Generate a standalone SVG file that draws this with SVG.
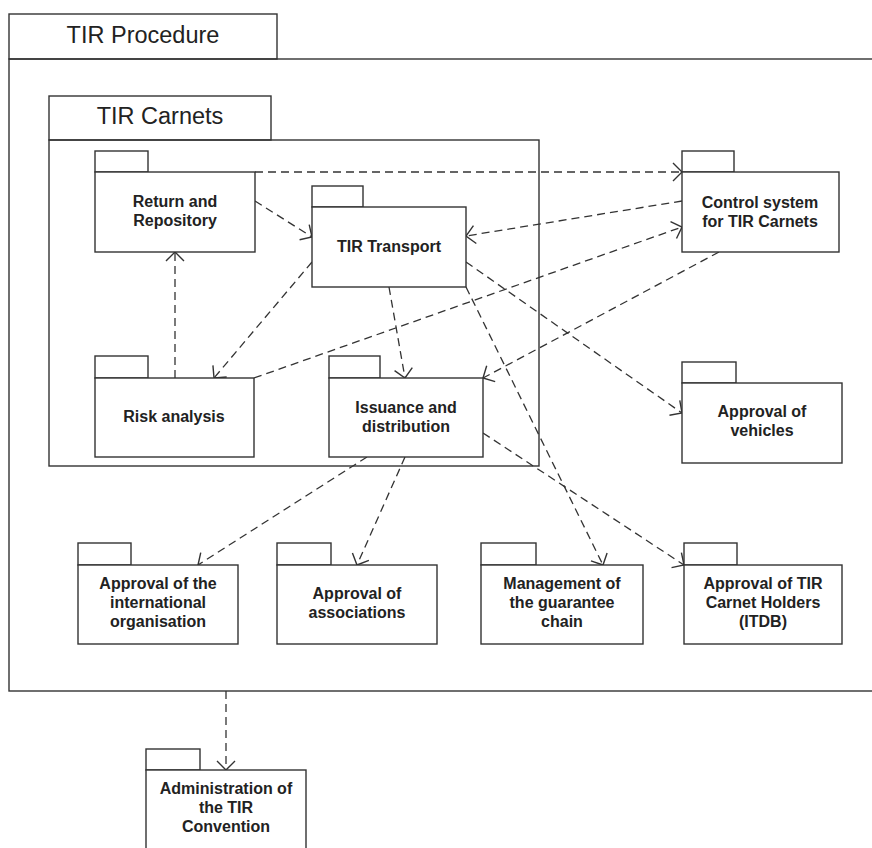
<svg xmlns="http://www.w3.org/2000/svg" width="872" height="848" viewBox="0 0 872 848">
<defs>
<style>
.box{fill:#fff;stroke:#333;stroke-width:1.4}
.cont{fill:none;stroke:#333;stroke-width:1.4}
.title{font-family:"Liberation Sans",Arial,sans-serif;font-size:23.5px;fill:#222;text-anchor:middle}
.lbl{font-family:"Liberation Sans",Arial,sans-serif;font-size:16px;font-weight:bold;fill:#222;text-anchor:middle}
.dep{fill:none;stroke:#333;stroke-width:1.3;stroke-dasharray:8 5;marker-end:url(#arr)}
</style>
<marker id="arr" markerUnits="userSpaceOnUse" markerWidth="24" markerHeight="24" refX="0" refY="0" viewBox="-12 -12 24 24" orient="auto" overflow="visible">
<path d="M-9,-9 L0,0 L-9,9" fill="none" stroke="#333" stroke-width="1.4"/>
</marker>
</defs>
<rect width="872" height="848" fill="#fff"/>
<g id="tir-procedure">
<rect class="box" x="9" y="14" width="268" height="45"/>
<rect class="cont" x="9" y="59" width="880" height="632"/>
<text class="title" x="143" y="43">TIR Procedure</text>
</g>
<g id="tir-carnets">
<rect class="box" x="49" y="96" width="222" height="44"/>
<rect class="cont" x="49" y="140" width="490" height="326"/>
<text class="title" x="160" y="124">TIR Carnets</text>
</g>
<g id="connectors">
<line class="dep" x1="255" y1="172" x2="682" y2="172"/>
<line class="dep" x1="255" y1="201" x2="312" y2="237"/>
<line class="dep" x1="682" y1="201" x2="466" y2="236"/>
<line class="dep" x1="254" y1="378" x2="682" y2="227"/>
<line class="dep" x1="719" y1="252" x2="483" y2="378"/>
<line class="dep" x1="312" y1="262" x2="214" y2="378"/>
<line class="dep" x1="175" y1="378" x2="175" y2="252"/>
<line class="dep" x1="389" y1="287" x2="405" y2="378"/>
<line class="dep" x1="466" y1="262" x2="682" y2="413"/>
<line class="dep" x1="466" y1="287" x2="603" y2="565"/>
<line class="dep" x1="483" y1="433" x2="684" y2="565"/>
<line class="dep" x1="367" y1="457" x2="198" y2="565"/>
<line class="dep" x1="405" y1="457" x2="357" y2="565"/>
<line class="dep" x1="226" y1="691" x2="226" y2="770"/>
</g>
<g id="return-repository">
<rect class="box" x="95" y="151" width="53" height="21"/>
<rect class="box" x="95" y="172" width="160" height="80"/>
<text class="lbl" x="175" y="207">Return and</text>
<text class="lbl" x="175" y="226">Repository</text>
</g>
<g id="tir-transport">
<rect class="box" x="312" y="186" width="51" height="21"/>
<rect class="box" x="312" y="207" width="154" height="80"/>
<text class="lbl" x="389" y="252">TIR Transport</text>
</g>
<g id="control-system">
<rect class="box" x="682" y="151" width="52" height="21"/>
<rect class="box" x="682" y="172" width="157" height="80"/>
<text class="lbl" x="760" y="208">Control system</text>
<text class="lbl" x="760" y="227">for TIR Carnets</text>
</g>
<g id="risk-analysis">
<rect class="box" x="95" y="356" width="53" height="22"/>
<rect class="box" x="95" y="378" width="159" height="79"/>
<text class="lbl" x="174" y="422">Risk analysis</text>
</g>
<g id="issuance">
<rect class="box" x="329" y="356" width="51" height="22"/>
<rect class="box" x="329" y="378" width="154" height="79"/>
<text class="lbl" x="406" y="413">Issuance and</text>
<text class="lbl" x="406" y="432">distribution</text>
</g>
<g id="approval-vehicles">
<rect class="box" x="682" y="362" width="54" height="21"/>
<rect class="box" x="682" y="383" width="160" height="80"/>
<text class="lbl" x="762" y="417">Approval of</text>
<text class="lbl" x="762" y="436">vehicles</text>
</g>
<g id="approval-intl-org">
<rect class="box" x="78" y="543" width="53" height="22"/>
<rect class="box" x="78" y="565" width="160" height="79"/>
<text class="lbl" x="158" y="589">Approval of the</text>
<text class="lbl" x="158" y="608">international</text>
<text class="lbl" x="158" y="627">organisation</text>
</g>
<g id="approval-associations">
<rect class="box" x="277" y="543" width="54" height="22"/>
<rect class="box" x="277" y="565" width="160" height="79"/>
<text class="lbl" x="357" y="599">Approval of</text>
<text class="lbl" x="357" y="618">associations</text>
</g>
<g id="management-guarantee">
<rect class="box" x="481" y="543" width="55" height="22"/>
<rect class="box" x="481" y="565" width="162" height="79"/>
<text class="lbl" x="562" y="589">Management of</text>
<text class="lbl" x="562" y="608">the guarantee</text>
<text class="lbl" x="562" y="627">chain</text>
</g>
<g id="approval-holders">
<rect class="box" x="684" y="543" width="53" height="22"/>
<rect class="box" x="684" y="565" width="158" height="79"/>
<text class="lbl" x="763" y="589">Approval of TIR</text>
<text class="lbl" x="763" y="608">Carnet Holders</text>
<text class="lbl" x="763" y="627">(ITDB)</text>
</g>
<g id="administration">
<rect class="box" x="146" y="749" width="54" height="21"/>
<rect class="box" x="146" y="770" width="160" height="90"/>
<text class="lbl" x="226" y="794">Administration of</text>
<text class="lbl" x="226" y="813">the TIR</text>
<text class="lbl" x="226" y="832">Convention</text>
</g>
</svg>
